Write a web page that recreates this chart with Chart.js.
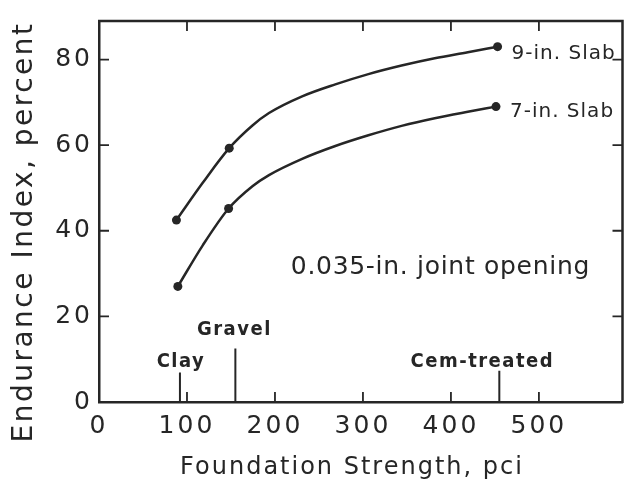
<!DOCTYPE html>
<html><head><meta charset="utf-8">
<script src="https://cdn.jsdelivr.net/npm/chart.js@4"></script>
<style>html,body{margin:0;padding:0;background:#fff}#wrap{width:627px;height:482px}</style>
</head><body><div id="wrap"><canvas id="c" width="627" height="482"></canvas></div>
<script>
// ---- values ----
const xTicks = [0, 100, 200, 300, 400, 500];
const yTicks = [0, 20, 40, 60, 80];
const seriesNames = ['9-in. Slab', '7-in. Slab'];
// measured points (markers)
const slab9X = [88, 148, 453];
const slab9Y = [42.5, 59.3, 83.0];
const slab7X = [89.6, 147.3, 451.2];
const slab7Y = [27.0, 45.2, 69.0];
// hand-faired curves
const curve9X = [88, 117.9, 148, 174.4, 193.2, 230.9, 268.6, 306.2, 343.9, 381.6, 419.2, 453];
const curve9Y = [42.5, 51.2, 59.3, 64.6, 67.5, 71.4, 74.2, 76.6, 78.6, 80.3, 81.7, 83.0];
const curve7X = [89.6, 117.9, 147.3, 174.4, 193.2, 230.9, 268.6, 306.2, 343.9, 381.6, 419.2, 451.2];
const curve7Y = [27.0, 36.6, 45.2, 50.4, 53.0, 56.8, 59.8, 62.3, 64.5, 66.3, 67.8, 69.0];
// foundation types marked on the x axis
const foundationNames = ['Clay', 'Gravel', 'Cem-treated'];
const foundationX = [92, 155, 455];
const foundationMarkTop = [6.9, 12.5, 7.3];
const noteText = '0.035-in. joint opening';
const xTitle = 'Foundation Strength, pci';
const yTitle = 'Endurance Index, percent';

const INK = '#262626';
const FONT = '"DejaVu Sans", sans-serif';
const FONT_C = '"DejaVu Sans Condensed", "DejaVu Sans", sans-serif';

const toPts = (xs, ys) => xs.map((x, i) => ({x: x, y: ys[i]}));

const datasets = [];
[[curve9X, curve9Y, seriesNames[0]], [curve7X, curve7Y, seriesNames[1]]].forEach(c => {
  datasets.push({
    label: c[2] + ' curve', data: toPts(c[0], c[1]), showLine: true,
    borderColor: INK, borderWidth: 2.5, pointRadius: 0, cubicInterpolationMode: 'monotone'
  });
});
[[slab9X, slab9Y, seriesNames[0]], [slab7X, slab7Y, seriesNames[1]]].forEach(c => {
  datasets.push({
    label: c[2], data: toPts(c[0], c[1]), showLine: false,
    backgroundColor: INK, borderColor: INK, pointRadius: 4.5, pointBorderWidth: 0
  });
});
foundationNames.forEach((n, i) => {
  datasets.push({
    label: n, data: [{x: foundationX[i], y: 0}, {x: foundationX[i], y: foundationMarkTop[i]}],
    showLine: true, borderColor: INK, borderWidth: 2, pointRadius: 0, tension: 0
  });
});

const TICK_LS = '3px';
const decor = {
  id: 'decor',
  beforeLayout(chart) { chart.ctx.letterSpacing = TICK_LS; },
  beforeDraw(chart) { chart.ctx.letterSpacing = TICK_LS; },
  afterDraw(chart) {
    const {ctx, chartArea: a, scales: {x, y}} = chart;
    ctx.save();
    ctx.strokeStyle = INK;
    ctx.lineCap = 'butt';
    ctx.lineWidth = 2.5;
    ctx.beginPath();
    ctx.moveTo(a.left - 1, a.top); ctx.lineTo(a.right, a.top); ctx.lineTo(a.right, a.bottom + 1);
    ctx.stroke();
    ctx.lineWidth = 1.8;
    const TL = 10;
    xTicks.slice(1).forEach(v => {
      const px = x.getPixelForValue(v);
      ctx.beginPath();
      ctx.moveTo(px, a.bottom); ctx.lineTo(px, a.bottom - TL);
      ctx.moveTo(px, a.top); ctx.lineTo(px, a.top + TL);
      ctx.stroke();
    });
    yTicks.slice(1).forEach(v => {
      const py = y.getPixelForValue(v);
      ctx.beginPath();
      ctx.moveTo(a.left, py); ctx.lineTo(a.left + TL, py);
      ctx.moveTo(a.right, py); ctx.lineTo(a.right - TL, py);
      ctx.stroke();
    });

    ctx.fillStyle = INK;
    ctx.textBaseline = 'alphabetic';
    // series labels at line ends
    ctx.font = '20px ' + FONT;
    ctx.letterSpacing = '1px';
    ctx.textAlign = 'left';
    const ends = [[slab9X, slab9Y, 12], [slab7X, slab7Y, 10]];
    ends.forEach((e, i) => {
      const k = e[0].length - 1;
      ctx.fillText(seriesNames[i], x.getPixelForValue(e[0][k]) + 14, y.getPixelForValue(e[1][k]) + e[2]);
    });
    // foundation labels
    ctx.font = 'bold 20px ' + FONT_C;
    ctx.letterSpacing = '1.5px';
    ctx.textAlign = 'center';
    const offs = [[1, -5], [-1, -13.5], [-17, -3.5]];
    foundationNames.forEach((n, i) => {
      ctx.fillText(n, x.getPixelForValue(foundationX[i]) + offs[i][0], y.getPixelForValue(foundationMarkTop[i]) + offs[i][1]);
    });
    // note
    ctx.font = '25px ' + FONT;
    ctx.letterSpacing = '0.7px';
    ctx.textAlign = 'left';
    ctx.fillText(noteText, x.getPixelForValue(218), y.getPixelForValue(29.9));
    // axis titles
    ctx.font = '24px ' + FONT;
    ctx.letterSpacing = '2px';
    ctx.textAlign = 'center';
    ctx.fillText(xTitle, 352, 474);
    ctx.save();
    ctx.translate(32, 232);
    ctx.rotate(-Math.PI / 2);
    ctx.font = '28px ' + FONT;
    ctx.letterSpacing = '2.5px';
    ctx.fillText(yTitle, 0, 0);
    ctx.restore();
    ctx.restore();
  }
};

new Chart(document.getElementById('c'), {
  type: 'scatter',
  data: {datasets: datasets},
  options: {
    responsive: false, animation: false,
    layout: {padding: {left: 0, top: 10, right: 1, bottom: 0}},
    plugins: {legend: {display: false}, tooltip: {enabled: false}},
    scales: {
      x: {
        type: 'linear', min: 0, max: 595,
        ticks: {stepSize: 100, color: INK, font: {family: FONT, size: 25}, padding: 9, maxRotation: 0},
        afterBuildTicks: s => { s.ticks = xTicks.map(v => ({value: v})); },
        afterFit: s => { s.height = 80; },
        grid: {display: false, drawTicks: false},
        border: {display: true, color: INK, width: 2.5}
      },
      y: {
        type: 'linear', min: 0, max: 89,
        ticks: {stepSize: 20, color: INK, font: {family: FONT, size: 25}, padding: 6},
        afterBuildTicks: s => { s.ticks = yTicks.map(v => ({value: v})); },
        afterFit: s => { s.width = 99; },
        grid: {display: false, drawTicks: false},
        border: {display: true, color: INK, width: 2.5}
      }
    }
  },
  plugins: [decor]
});
</script>
</body></html>
